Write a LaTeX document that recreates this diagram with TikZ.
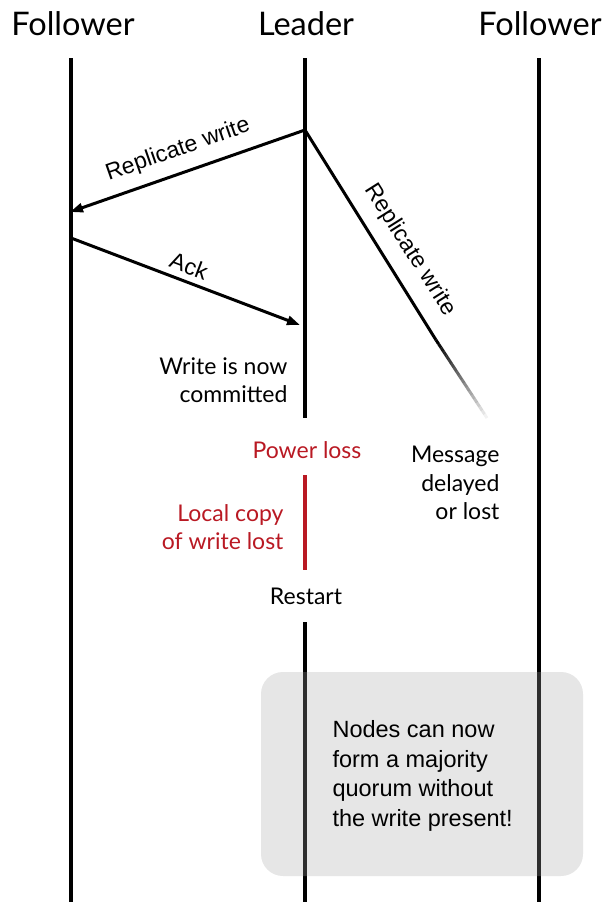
\documentclass[tikz,border=0pt]{standalone}
\usepackage{fontspec}
\setmainfont{Lato}
\newfontfamily\arialf{Liberation Sans}
\usetikzlibrary{arrows.meta,calc}
\definecolor{lossred}{RGB}{185,25,35}
\definecolor{boxgray}{RGB}{230,230,230}
\begin{document}
\begin{tikzpicture}[x=1pt,y=-1pt,
  lifeline/.style={line width=3.4pt},
  msg/.style={line width=3pt,-{Triangle[length=13pt,width=9pt]}},
  head/.style={font=\fontsize{32.5}{36}\selectfont},
  note/.style={font=\fontsize{23}{28.5}\selectfont},
  msglabel/.style={font=\arialf\fontsize{23}{26}\selectfont},
  boxtext/.style={font=\arialf\fontsize{23.5}{29.4}\selectfont,align=left},
  quorumbox/.style={rounded corners=22pt}]
\useasboundingbox (0,0) rectangle (604,902);
% box background
\fill[boxgray,quorumbox] (261,672) rectangle (583,876);
% headers
\node[head] (hf1) at (73,24) {Follower};
\node[head] (hl) at (306,24) {Leader};
\node[head] (hf2) at (540,24) {Follower};
% lifeline coordinates
\coordinate (f1top) at (71,58);
\coordinate (f1bot) at (71,902);
\coordinate (f2top) at (539,58);
\coordinate (f2bot) at (539,902);
\coordinate (ltop) at (305,58);
\coordinate (lend1) at (305,418);
\coordinate (lred1) at (305,475);
\coordinate (lred2) at (305,570);
\coordinate (lrest) at (305,622);
\coordinate (lbot) at (305,902);
\draw[lifeline] (f1top) -- (f1bot);
\draw[lifeline] (f2top) -- (f2bot);
\draw[lifeline] (ltop) -- (lend1);
\draw[lifeline,lossred] (lred1) -- (lred2);
\draw[lifeline] (lrest) -- (lbot);
% messages
\coordinate (s1) at (305,130);
\coordinate (r1) at (70,212);
\coordinate (s2) at (71,238);
\coordinate (r2) at (300,325);
\draw[msg] (s1) -- (r1);
\draw[msg] (s2) -- (r2);
\node[msglabel,rotate=19.3] (lab1) at (178,150) {Replicate write};
\node[msglabel,rotate=-20.7] (lab2) at (189,266) {Ack};
% fading message to right follower
\coordinate (fadestart) at (436,340);
\coordinate (fadeend) at (487,418);
\draw[line width=3pt] (s1) -- (fadestart);
\foreach \i in {0,...,19}{
  \pgfmathsetmacro{\op}{1-\i/20}
  \draw[line width=3pt,draw opacity=\op]
    ($(fadestart)!{\i/20}!(fadeend)$) -- ($(fadestart)!{(\i+1)/20}!(fadeend)$);
}
\node[msglabel,rotate=-57.7] (lab3) at (410,250) {Replicate write};
% annotations
\node[note,anchor=east,align=right] (commit) at (291,380) {Write is now\\committed};
\node[note,text=lossred] (power) at (307,450) {Power loss};
\node[note,anchor=east,align=right,text=lossred] (local) at (287,527) {Local copy\\of write lost};
\node[note] (restart) at (306,596) {Restart};
\node[note,anchor=east,align=right] (delay) at (503,483) {Message\\delayed\\or lost};
% light veil over lines inside box
\fill[boxgray,fill opacity=0.2,quorumbox] (261,672) rectangle (583,876);
\node[boxtext,anchor=west] (quorum) at (329,776) {Nodes can now\\form a majority\\quorum without\\the write present!};
\end{tikzpicture}
\end{document}
